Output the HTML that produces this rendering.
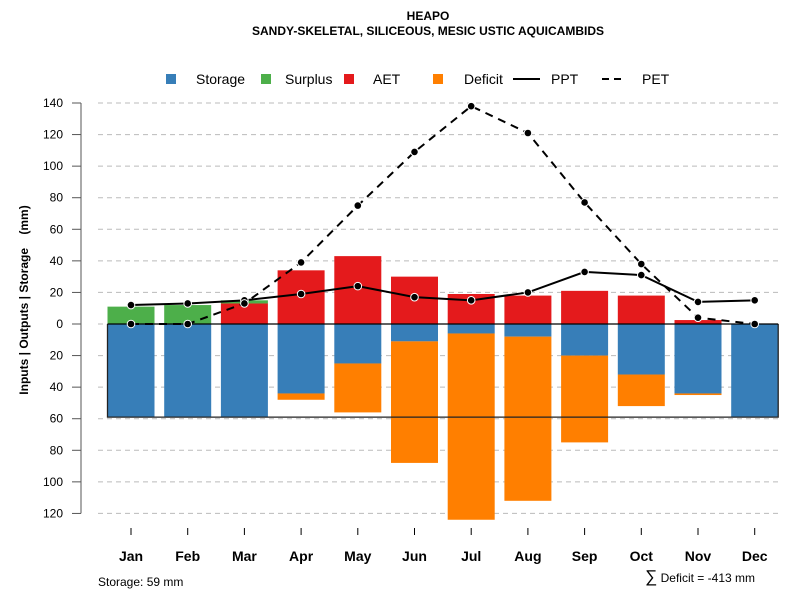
<!DOCTYPE html>
<html><head><meta charset="utf-8"><style>
body{margin:0;background:#fff;}
svg{display:block;font-family:"Liberation Sans",sans-serif;}
</style></head><body>
<svg id="chart" width="800" height="600" xmlns="http://www.w3.org/2000/svg">
<text x="428" y="20" text-anchor="middle" font-size="12" font-weight="bold">HEAPO</text>
<text x="428" y="35" text-anchor="middle" font-size="12" font-weight="bold">SANDY-SKELETAL, SILICEOUS, MESIC USTIC AQUICAMBIDS</text>
<g font-size="14">
<rect x="166" y="74" width="10" height="10" fill="#377eb8"/>
<text x="196" y="84">Storage</text>
<rect x="261" y="74" width="10" height="10" fill="#4daf4a"/>
<text x="285" y="84">Surplus</text>
<rect x="344" y="74" width="10" height="10" fill="#e41a1c"/>
<text x="373" y="84">AET</text>
<rect x="433" y="74" width="10" height="10" fill="#ff7f00"/>
<text x="464" y="84">Deficit</text>
<line x1="513" y1="79" x2="540" y2="79" stroke="#000" stroke-width="2"/>
<text x="551" y="84">PPT</text>
<line x1="602" y1="79" x2="626" y2="79" stroke="#000" stroke-width="2" stroke-dasharray="7,5"/>
<text x="642" y="84">PET</text>
</g>
<text transform="translate(28,300) rotate(-90)" text-anchor="middle" font-size="12" font-weight="bold" xml:space="preserve" style="white-space:pre">Inputs | Outputs | Storage    (mm)</text>
<text x="98" y="586" font-size="12">Storage: 59 mm</text>
<text x="755" y="582" text-anchor="end" font-size="12"><tspan font-size="17">∑</tspan> Deficit = -413 mm</text>
<g id="plot"></g>
</svg>
<script>
const months=["Jan","Feb","Mar","Apr","May","Jun","Jul","Aug","Sep","Oct","Nov","Dec"];
const storage=[59,59,59,44,25,11,6,8,20,32,44,59];
const deficit=[0,0,0,4,31,77,118,104,55,20,1,0];
const aet=[0,0,13,34,43,30,19,18,21,18,2.5,0];
const surplus=[11,12,2,0,0,0,0,0,0,0,0,0];
const ppt=[12,13,15,19,24,17,15,20,33,31,14,15];
const pet=[0,0,13,39,75,109,138,121,77,38,4,0];
const yTicks=[140,120,100,80,60,40,20,0,20,40,60,80,100,120];
const yTickVals=[140,120,100,80,60,40,20,0,-20,-40,-60,-80,-100,-120];
const capacity=59;
const NS="http://www.w3.org/2000/svg";
const g=document.getElementById('plot');
const y=v=>324-v*1.5786;
const x=i=>131+i*56.7;
const bw=47;
function mk(t,a){const e=document.createElementNS(NS,t);for(const k in a)e.setAttribute(k,a[k]);g.appendChild(e);return e;}
yTickVals.forEach((v,i)=>{
 const gl=mk('line',{x1:98,x2:780,y1:y(v),y2:y(v),stroke:'#bbb','stroke-dasharray':'5,4'});
 
 
 const tk=mk('line',{x1:72,x2:81,y1:y(v),y2:y(v),stroke:'#555'});
 
 
 const tl=mk('text',{x:63,y:y(v)+4,'text-anchor':'end','font-size':12});
 tl.textContent=yTicks[i];
 
 
});
const ax=mk('line',{x1:81,x2:81,y1:y(140),y2:y(-120),stroke:'#555'});


months.forEach((m,i)=>{
 const cx=x(i),l=cx-bw/2;
 let r=mk('rect',{x:l,y:y(0),width:bw,height:y(-storage[i])-y(0),fill:'#377eb8'});
 
 
 r=mk('rect',{x:l,y:y(-storage[i]),width:bw,height:y(-storage[i]-deficit[i])-y(-storage[i]),fill:'#ff7f00'});
 
 
 r=mk('rect',{x:l,y:y(aet[i]),width:bw,height:y(0)-y(aet[i]),fill:'#e41a1c'});
 
 
 r=mk('rect',{x:l,y:y(aet[i]+surplus[i]),width:bw,height:y(aet[i])-y(aet[i]+surplus[i]),fill:'#4daf4a'});
 
 
 const t=mk('line',{x1:cx,x2:cx,y1:528,y2:535,stroke:'#000'});
 
 
 const tl=mk('text',{x:cx,y:561,'text-anchor':'middle','font-size':14,'font-weight':'bold'});
 tl.textContent=m;
 
 
});
const box=mk('path',{d:`M${x(0)-bw/2},${y(0)} V${y(-capacity)} H${x(11)+bw/2} V${y(0)}`,fill:'none',stroke:'#222','stroke-width':1.3});


const zl=mk('line',{x1:x(0)-bw/2,x2:x(11)+bw/2,y1:y(0),y2:y(0),stroke:'#000','stroke-width':1.3});


const pp=mk('polyline',{points:ppt.map((v,i)=>x(i)+','+y(v)).join(' '),fill:'none',stroke:'#000','stroke-width':2});


const pe=mk('polyline',{points:pet.map((v,i)=>x(i)+','+y(v)).join(' '),fill:'none',stroke:'#000','stroke-width':2,'stroke-dasharray':'8,6'});


[ppt,pet].forEach((s,k)=>s.forEach((v,i)=>{
 const c=mk('circle',{cx:x(i),cy:y(v),r:3.8,fill:'#000',stroke:'#fff','stroke-width':1});
 
 
}));
</script>
</body></html>
